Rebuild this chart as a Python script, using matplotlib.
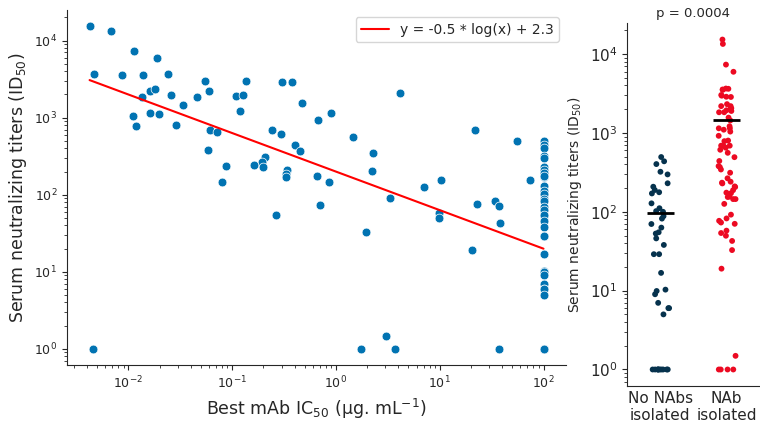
import numpy as np
import pandas as pd
import matplotlib
matplotlib.use("Agg")
import matplotlib.pyplot as plt
import seaborn as sns

# Best mAb IC50 (ug/mL) and serum ID50 for donors where NAbs were isolated
nab_ic50 = [
    0.00423, 0.00686, 0.01125, 0.01875, 0.00469, 0.00875, 0.01396, 0.0240,
    0.0546, 0.01633, 0.01824, 0.01355, 0.0259, 0.0454, 0.0593, 0.108,
    0.0338, 0.01101, 0.01178, 0.01622, 0.01995, 0.0287, 0.0610, 0.0714,
    0.0583, 0.0865, 0.0792,
    0.137, 0.126, 0.119, 0.305, 0.378, 0.472, 0.665, 0.895, 0.241, 0.294,
    0.405, 0.446, 1.449, 2.26, 2.23, 0.207, 0.194, 0.163, 0.199, 0.338,
    0.331, 0.329, 0.659, 0.861, 4.15,
    21.7, 55.7, 73.3, 7.13, 10.3,
    0.267, 0.697, 3.33, 1.96, 3.04, 1.73, 3.69,
    23.0, 34.4, 37.3, 38.2, 9.89, 9.89, 20.6, 37.0,
    0.00456,
]
nab_id50 = [
    15300, 13460, 7360, 5970, 3630, 3520, 3560, 3660,
    3030, 2190, 2320, 1830, 1940, 1830, 2190, 1900,
    1440, 1040, 787, 1145, 1100, 801, 684, 650,
    380, 234, 145,
    2970, 1980, 1215, 2860, 2880, 1565, 920, 1145, 690, 612,
    441, 369, 560, 344, 206, 313, 266, 241, 229, 210,
    188, 172, 175, 145, 2060,
    690, 493, 156, 126, 154,
    53.8, 73.1, 92, 32.7, 1.49, 1, 1,
    76.9, 82.4, 70.4, 42.7, 57.7, 49.7, 19, 1,
    1,
]
# donors without isolated NAbs (IC50 set to 100)
no_nab_id50 = [
    495, 437, 403, 322, 298, 230, 208, 189, 171, 177,
    128, 111, 100, 102, 88, 82, 70, 63, 53, 55,
    46, 38, 29, 29, 16.8, 10.3, 9.9, 9.0, 7.0, 6.0,
    6.0, 5.0, 1, 1, 1, 1, 1, 1, 1, 1, 1, 1,
]
NO_NAB_IC50 = 100

slope, intercept = -0.5, 2.3
group_labels = ["No NAbs\nisolated", "NAb\nisolated"]
p_value = "p = 0.0004"

BLUE = "#0173B2"
NAVY = "#06324D"
RED = "#EC0A22"

sns.set_style("ticks")
plt.rcParams['font.family'] = ['DejaVu Sans']

fig = plt.figure(figsize=(7.6, 4.23), dpi=100)
ax = fig.add_axes([0.088, 0.137, 0.657, 0.839])
ax2 = fig.add_axes([0.825, 0.0875, 0.175, 0.858])

# left panel: scatter + log fit
all_x = np.array(nab_ic50 + [NO_NAB_IC50] * len(no_nab_id50))
all_y = np.array(nab_id50 + no_nab_id50)
sns.scatterplot(x=all_x, y=all_y, color=BLUE, s=40, ax=ax, zorder=2)
ax.set_xscale("log")
ax.set_yscale("log")
xx = np.array([all_x.min(), all_x.max()])
ax.plot(xx, 10 ** (slope * np.log10(xx) + intercept), color="red", lw=1.5,
        label="y = -0.5 * log(x) + 2.3", zorder=3)
ax.legend(loc="upper right", fontsize=10)
ax.set_xlabel("Best mAb IC$_{50}$ (µg. mL$^{-1}$)", fontsize=12.5)
ax.set_ylabel("Serum neutralizing titers (ID$_{50}$)", fontsize=12.5)
ax.tick_params(labelsize=9)
sns.despine(ax=ax)

# right panel: strip plot by group
df = pd.DataFrame({
    "group": [group_labels[0]] * len(no_nab_id50) + [group_labels[1]] * len(nab_id50),
    "id50": no_nab_id50 + nab_id50,
})
np.random.seed(3)
sns.stripplot(data=df, x="group", y="id50", hue="group", order=group_labels,
              palette=[NAVY, RED], size=4.2, jitter=0.14, legend=False, ax=ax2)
ax2.set_yscale("log")
ax2.set_ylim(ax.get_ylim())
for i, vals in enumerate([no_nab_id50, nab_id50]):
    ax2.hlines(np.mean(vals), i - 0.2, i + 0.2, color="black", lw=2, zorder=4)
ax2.set_xlim(-0.5, 1.5)
ax2.set_xlabel("")
ax2.set_ylabel("Serum neutralizing titers (ID$_{50}$)", fontsize=10)
ax2.set_title(p_value, fontsize=9.5, pad=4)
ax2.tick_params(axis="y", labelsize=11)
ax2.tick_params(axis="x", labelsize=11, length=0)
sns.despine(ax=ax2)

fig.savefig("out.png", dpi=100)
